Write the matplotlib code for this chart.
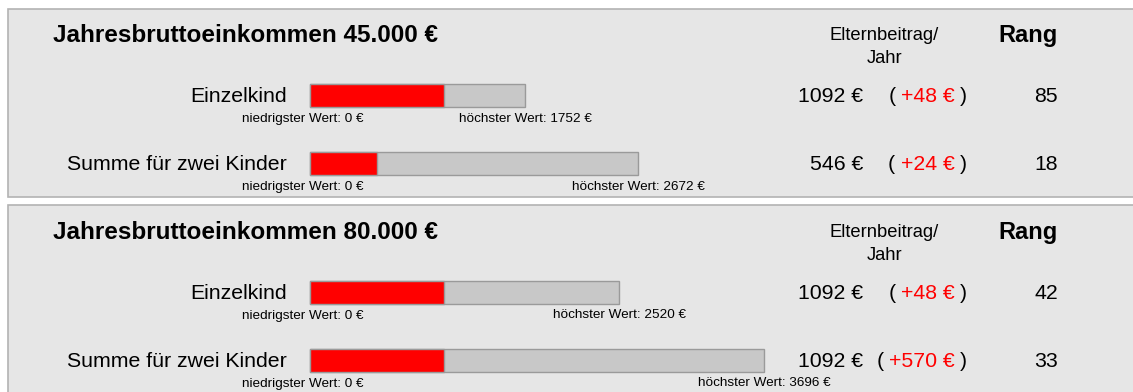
import matplotlib
matplotlib.use("Agg")
import matplotlib.pyplot as plt
from matplotlib.patches import Rectangle
from matplotlib.transforms import Affine2D, offset_copy

plt.rcParams["font.family"] = ["Liberation Sans", "DejaVu Sans"]

# Elternbeiträge je Einkommensstufe
titles = ["Jahresbruttoeinkommen 45.000 €", "Jahresbruttoeinkommen 80.000 €"]
categories = ["Einzelkind", "Summe für zwei Kinder"]
beitrag = [[1092, 546], [1092, 1092]]
niedrigst = [[0, 0], [0, 0]]
hoechst = [[1752, 2672], [2520, 3696]]
aenderung = [[48, 24], [48, 570]]
rang = [[85, 18], [42, 33]]

W, H = 1133, 392
fig = plt.figure(figsize=(W / 100, H / 100), dpi=100)
ax = fig.add_axes([0, 0, 1, 1])
ax.set_axis_off()

# x in Euro (bars start at pixel 310), y in pixels from the top
eur_px = 0.1228
x0 = 310
ax.set_xlim(-x0 / eur_px, (W - x0) / eur_px)
ax.set_ylim(H, 0)

# pixel transform for the layout (origin top left)
px = Affine2D().scale(1 / W, -1 / H).translate(0, 1) + fig.transFigure
left_shift = offset_copy(ax.transData, fig=fig, x=-7, y=0, units="dots")

for p, title in enumerate(titles):
    top = 8 + 197 * p
    ax.add_patch(Rectangle((7.5, top + 0.5), 1150, 189, transform=px,
                           facecolor="#e6e6e6", edgecolor="#b3b3b3", lw=1.2, zorder=0))
    ax.text(53, top + 34, title, transform=px, fontsize=17.5, fontweight="bold",
            va="baseline")
    ax.text(884.5, top + 32, "Elternbeitrag/", transform=px, fontsize=13.2,
            ha="center", va="baseline")
    ax.text(884.5, top + 55, "Jahr", transform=px, fontsize=13.2,
            ha="center", va="baseline")
    ax.text(1058, top + 34, "Rang", transform=px, fontsize=17, fontweight="bold",
            ha="right", va="baseline")

    for r, cat in enumerate(categories):
        yc = top + 87.5 + 68 * r
        ax.barh(yc, hoechst[p][r] - niedrigst[p][r], left=niedrigst[p][r], height=23,
                color="#c8c8c8", edgecolor="#9a9a9a", lw=1, zorder=2)
        ax.barh(yc, beitrag[p][r], left=niedrigst[p][r], height=23,
                color="#ff0000", edgecolor="#9a9a9a", lw=1, zorder=3)

        ax.text(287, yc + 6.5, cat, transform=px, fontsize=15.3, ha="right", va="baseline")
        ax.text(niedrigst[p][r], yc + 26, f"niedrigster Wert: {niedrigst[p][r]} €",
                transform=left_shift, fontsize=9.7, ha="center", va="baseline")
        ax.text(hoechst[p][r], yc + 26, f"höchster Wert: {hoechst[p][r]} €",
                fontsize=9.7, ha="center", va="baseline")

        ax.text(863, yc + 6.5, f"{beitrag[p][r]} €", transform=px, fontsize=15.3,
                ha="right", va="baseline")
        red = ax.text(955, yc + 6.5, f"+{aenderung[p][r]} €", transform=px, fontsize=15.3,
                      color="#ff0000", ha="right", va="baseline")
        ax.text(960, yc + 6.5, ")", transform=px, fontsize=15.3, ha="left", va="baseline")
        ax.annotate("(", xy=(0, 0.5), xycoords=red, xytext=(-6, 0),
                    textcoords="offset pixels", fontsize=15.3, ha="right", va="center")
        ax.text(1058, yc + 6.5, str(rang[p][r]), transform=px, fontsize=15.3,
                ha="right", va="baseline")

fig.savefig("out.png", dpi=100, facecolor="white")
